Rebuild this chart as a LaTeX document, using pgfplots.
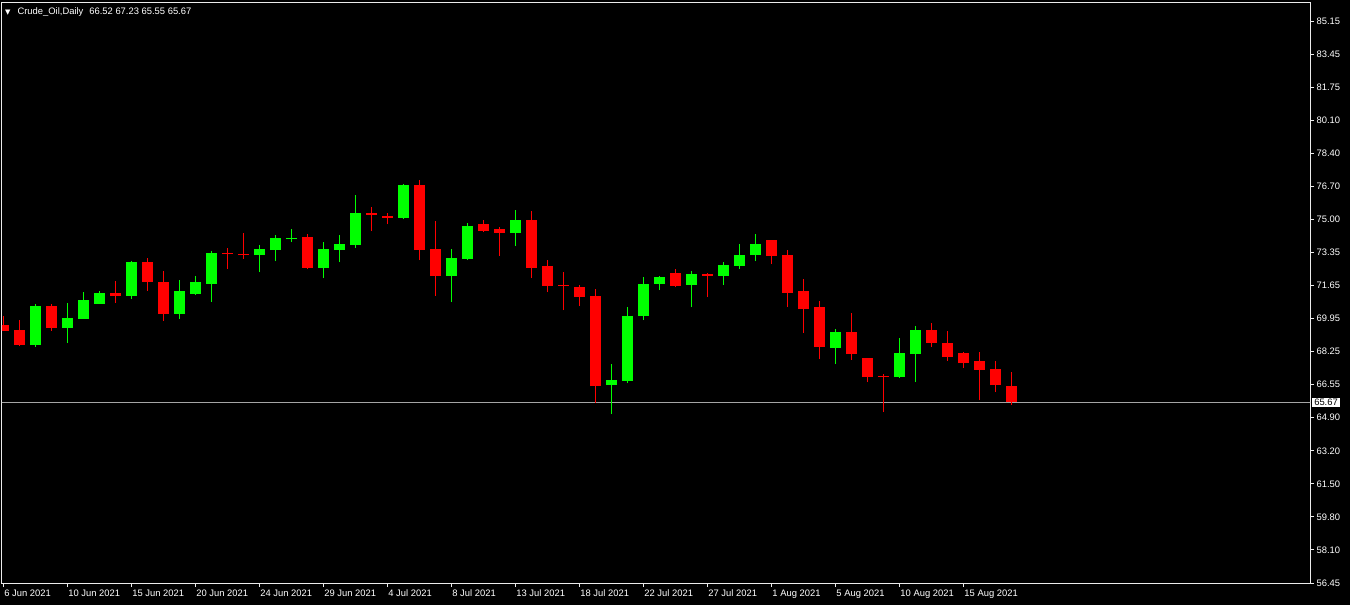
\documentclass[border=0pt]{standalone}
\usepackage{fontspec}
\setmainfont{Liberation Sans}
\newfontfamily\dejavu{DejaVu Sans}
\usepackage{pgfplots}
\usepackage{pgfplotstable}
\pgfplotsset{compat=1.18}
\definecolor{upc}{RGB}{0,255,0}
\definecolor{dnc}{RGB}{255,0,0}
\definecolor{bidc}{RGB}{165,165,165}
\definecolor{framec}{RGB}{235,235,235}

% bullish candles: index open high low close
\pgfplotstableread{
x o h l c
2 68.60 70.70 68.52 70.59
4 69.49 70.75 68.72 69.98
5 69.95 71.31 69.95 70.90
6 70.71 71.36 70.71 71.26
8 71.12 72.89 70.97 72.84
11 70.20 71.92 69.95 71.36
12 71.22 72.13 71.16 71.82
13 71.73 73.40 70.81 73.30
16 73.20 73.71 72.33 73.51
17 73.45 74.22 72.89 74.07
18 74.03 74.53 73.86 74.07
20 72.54 73.86 72.02 73.51
21 73.45 74.22 72.84 73.76
22 73.71 76.26 73.56 75.34
25 75.10 76.83 75.04 76.77
28 72.13 73.51 70.80 73.05
29 73.00 74.83 72.94 74.68
32 74.32 75.50 73.66 74.99
38 66.56 67.63 65.08 66.82
39 66.77 70.54 66.66 70.08
40 70.08 72.08 69.88 71.72
41 71.72 72.13 71.41 72.08
43 71.67 72.38 70.54 72.23
45 72.13 72.84 71.67 72.69
46 72.64 73.76 72.48 73.20
47 73.20 74.27 72.89 73.76
52 68.45 69.42 67.63 69.27
56 66.97 68.96 66.92 68.19
57 68.14 69.57 66.71 69.37
}\bull

% bearish candles: index open high low close
\pgfplotstableread{
x o h l c
0 69.62 70.08 69.32 69.32
1 69.37 69.88 68.55 68.60
3 70.59 70.70 69.32 69.49
7 71.26 71.87 70.75 71.12
9 72.84 73.05 71.38 71.84
10 71.82 72.38 69.84 70.20
14 73.30 73.56 72.50 73.25
15 73.25 74.32 73.01 73.20
19 74.12 74.27 72.48 72.54
23 75.34 75.65 74.42 75.26
24 75.19 75.34 74.78 75.10
26 76.77 77.03 72.94 73.45
27 73.51 74.94 71.11 72.13
30 74.78 74.99 74.37 74.42
31 74.53 74.63 73.15 74.32
33 74.99 75.45 72.02 72.54
34 72.64 72.94 71.31 71.62
35 71.67 72.33 70.39 71.62
36 71.56 71.67 70.59 71.05
37 71.11 71.46 65.64 66.51
42 72.28 72.48 71.56 71.62
44 72.23 72.28 71.05 72.13
48 73.97 73.99 72.74 73.15
49 73.20 73.45 70.54 71.26
50 71.36 71.97 69.22 70.44
51 70.54 70.85 67.89 68.50
53 69.27 70.24 67.84 68.14
54 67.94 67.96 66.71 66.97
55 67.03 67.12 65.18 66.97
58 69.37 69.73 68.50 68.70
59 68.70 69.32 67.79 67.99
60 68.19 68.24 67.43 67.68
61 67.79 68.24 65.79 67.33
62 67.38 67.79 66.20 66.56
63 66.52 67.23 65.55 65.67
}\bear

\begin{document}
\begin{tikzpicture}
\path[fill=black, use as bounding box] (-2bp,-22bp) rectangle (1348bp,583bp);
\begin{axis}[
  at={(0,0)}, anchor=south west,
  scale only axis, width=1308bp, height=580bp,
  xmin=-0.08, xmax=81.66, ymin=56.45, ymax=86.07,
  axis line style={draw=framec, line width=1bp},
  xtick={0,4,...,60},
  xticklabels={6 Jun 2021,10 Jun 2021,15 Jun 2021,20 Jun 2021,24 Jun 2021,29 Jun 2021,4 Jul 2021,8 Jul 2021,13 Jul 2021,18 Jul 2021,22 Jul 2021,27 Jul 2021,1 Aug 2021,5 Aug 2021,10 Aug 2021,15 Aug 2021},
  ytick={56.45,58.1382,59.8265,61.5147,63.2029,64.8912,66.5794,68.2676,69.9559,71.6441,73.3324,75.0206,76.7088,78.3971,80.0853,81.7735,83.4618,85.15},
  yticklabels={56.45,58.10,59.80,61.50,63.20,64.90,66.55,68.25,69.95,71.65,73.35,75.00,76.70,78.40,80.10,81.75,83.45,85.15},
  xtick pos=bottom, ytick pos=right,
  tick align=outside, major tick length=4bp,
  tick style={draw=framec, line width=1bp},
  /pgf/number format/assume math mode=true,
  ticklabel style={text=white, font=\fontsize{9.4bp}{11bp}\selectfont},
  xticklabel style={anchor=north west, xshift=-2.5bp, yshift=1bp},
  yticklabel style={anchor=west, xshift=-1bp},
  extra y ticks={65.67},
  extra y tick labels={65.67},
  extra y tick style={major tick length=0bp,
    yticklabel style={fill=white, text=black, inner xsep=2bp, inner ysep=1.5bp,
      anchor=west, xshift=3bp, font=\fontsize{9.4bp}{11bp}\selectfont}},
  clip=true,
]
\addplot[bidc, line width=1bp, forget plot] coordinates {(-1,65.67) (83,65.67)};

% wicks
\addplot[draw=none, mark=none, forget plot,
  error bars/.cd, y dir=plus, y explicit, error mark=none,
  error bar style={draw=upc, line width=1bp}]
  table[x=x, y=l, y error expr=\thisrow{h}-\thisrow{l}] {\bull};
\addplot[draw=none, mark=none, forget plot,
  error bars/.cd, y dir=plus, y explicit, error mark=none,
  error bar style={draw=dnc, line width=1bp}]
  table[x=x, y=l, y error expr=\thisrow{h}-\thisrow{l}] {\bear};

% bodies
\addplot[draw=none, mark=none, forget plot,
  error bars/.cd, y dir=plus, y explicit, error mark=none,
  error bar style={draw=upc, line width=11bp}]
  table[x=x, y=o, y error expr=\thisrow{c}-\thisrow{o}] {\bull};
\addplot[draw=none, mark=none, forget plot,
  error bars/.cd, y dir=plus, y explicit, error mark=none,
  error bar style={draw=dnc, line width=11bp}]
  table[x=x, y=c, y error expr=\thisrow{o}-\thisrow{c}] {\bear};

\node[anchor=west, text=white, inner sep=0pt, font=\fontsize{9.4bp}{11bp}\selectfont]
  at (rel axis cs:0,1) [xshift=3bp, yshift=-9bp]
  {{\dejavu\fontsize{7bp}{7bp}\selectfont ▼}\hspace{7bp}Crude\_Oil,Daily\hspace{6bp}66.52 67.23 65.55 65.67};
\end{axis}
\end{tikzpicture}
\end{document}
